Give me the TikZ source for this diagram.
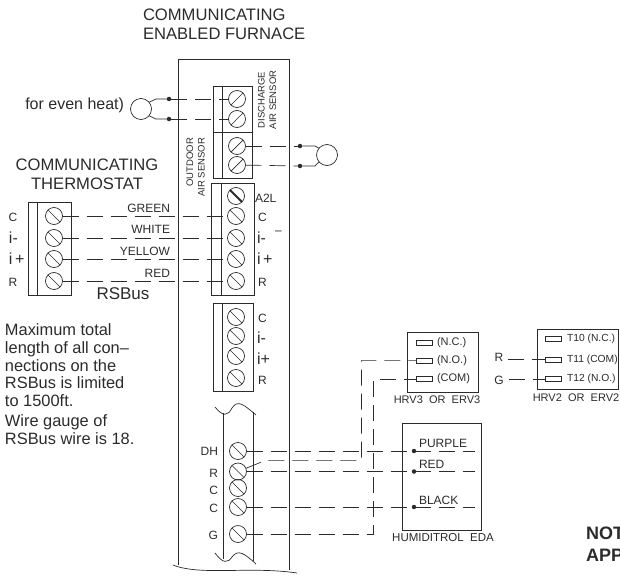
\documentclass[tikz,border=0pt]{standalone}
\usepackage{fontspec}
\setmainfont{Liberation Sans}
\usetikzlibrary{positioning}
\definecolor{inkgray}{HTML}{2B2B2B}

\begin{document}
\begin{tikzpicture}[
            x=1pt, y=-1pt,
            color=inkgray,
            line width=0.7pt,
            every node/.style={inner sep=0pt, outer sep=0pt},
            screw/.style={circle, draw, minimum size=17pt,
              path picture={\draw (path picture bounding box.north west) -- (path picture bounding box.south east);}},
            screwflip/.style={circle, draw, minimum size=17pt,
              path picture={\draw (path picture bounding box.south west) -- (path picture bounding box.north east);}},
            screwbold/.style={circle, draw, minimum size=17pt,
              path picture={\draw[line width=1.8pt] (path picture bounding box.north west) -- (path picture bounding box.south east);}},
            block/.style={rectangle, draw},
            wire/.style={dash pattern=on 16pt off 8pt},
            splice/.style={circle, fill=inkgray, minimum size=4.5pt},
            sensor/.style={circle, draw, minimum size=21pt},
            terminal/.style={rectangle, draw, minimum width=16pt, minimum height=4.5pt},
            headtext/.style={font=\fontsize{16.6}{19}\selectfont},
            bodytext/.style={font=\fontsize{16.4}{17.7}\selectfont, align=left},
            pintext/.style={font=\fontsize{12}{14}\selectfont},
            bigpin/.style={font=\fontsize{16}{18}\selectfont},
            tagtext/.style={font=\fontsize{11}{13}\selectfont},
            sidetext/.style={font=\fontsize{9.5}{11.5}\selectfont, rotate=90}
            ]
            \useasboundingbox (0,0) rectangle (620,575);

            % Furnace outline
            \draw (178,565) -- (178,59) -- (289,59) -- (289,570);
            \draw (173,565) .. controls (200,576) and (250,566) .. (297,573);
            \node[headtext, anchor=west] (furnacea) at (143,15) {COMMUNICATING};
            \node[headtext, anchor=west] (furnaceb) at (143,34) {ENABLED FURNACE};

            % Sensor blocks
            \node[block, minimum width=39pt, minimum height=46pt] (dischargeblock) at (232.5,109) {};
            \node[block, minimum width=39pt, minimum height=46pt] (outdoorblock) at (232.5,155.5) {};
            \draw (222,86) -- (222,178.5);
            \node[screwflip] (da) at (237,99) {};
            \node[screwflip] (db) at (237,119) {};
            \node[screwflip] (oa) at (237,146) {};
            \node[screwflip] (ob) at (237,165) {};
            \node[sidetext, align=center] (dischargetext) at (267,100) {DISCHARGE\\AIR SENSOR};
            \node[sidetext, align=right, anchor=east] (outdoortext) at (195.5,138) {OUTDOOR\\AIR SENSOR};

            % Left sensor
            \node[font=\fontsize{16}{18}\selectfont, anchor=east] (evenheat) at (124,105) {for even heat)};
            \node[sensor] (sensl) at (141,109) {};
            \node[splice] (sla) at (169,99) {};
            \node[splice] (slb) at (169,119) {};
            \draw (sensl.40) -- (156,99) -- (sla);
            \draw (sensl.-40) -- (156,119) -- (slb);
            \draw[wire] (sla) -- (da);
            \draw[wire] (slb) -- (db);

            % Right sensor
            \node[sensor] (sensr) at (327,155) {};
            \node[splice] (sra) at (300,146) {};
            \node[splice] (srb) at (300,166) {};
            \draw (sensr.140) -- (315,146) -- (sra);
            \draw (sensr.-140) -- (315,166) -- (srb);
            \draw[wire] (oa) -- (sra);
            \draw[wire] (ob) -- (srb);

            % Thermostat
            \node[headtext] (thermoa) at (87,165) {COMMUNICATING};
            \node[headtext] (thermob) at (87,183.5) {THERMOSTAT};
            \node[block, minimum width=43pt, minimum height=93pt] (thermoblock) at (49.5,248.5) {};
            \draw (37,202) -- (37,295);
            \node[screw] (ta) at (54,216) {};
            \node[screw] (tb) at (54,238) {};
            \node[screw] (tc) at (54,259) {};
            \node[screw] (td) at (54,281) {};
            \node[pintext] (tlabela) at (13,217) {C};
            \node[bigpin, anchor=west] (tlabelb) at (9,238) {i-};
            \node[bigpin, anchor=west] (tlabelc) at (9,259) {i\,+};
            \node[pintext] (tlabeld) at (13,282) {R};

            % Main block
            \node[block, minimum width=43pt, minimum height=112pt] (mainblock) at (232.5,239) {};
            \draw (221,183) -- (221,295);
            \node[screwbold] (ma) at (236,196) {};
            \node[screw] (mb) at (236,216) {};
            \node[screw] (mc) at (236,238) {};
            \node[screw] (md) at (236,259) {};
            \node[screw] (me) at (236,281) {};
            \node[pintext, anchor=west] (mlabela) at (255,198) {A2L};
            \node[pintext, anchor=west] (mlabelb) at (258,217) {C};
            \node[bigpin, anchor=west] (mlabelc) at (257,238) {i-};
            \node[pintext, anchor=west] (dashmark) at (275,233) {–};
            \node[bigpin, anchor=west] (mlabeld) at (257,259) {i\,+};
            \node[pintext, anchor=west] (mlabele) at (258,282) {R};

            % RSBus wires
            \draw[wire] (ta) -- (mb);
            \draw[wire] (tb) -- (mc);
            \draw[wire] (tc) -- (md);
            \draw[wire] (td) -- (me);
            \node[pintext, anchor=east] (greentext) at (170,208) {GREEN};
            \node[pintext, anchor=east] (whitetext) at (170,229) {WHITE};
            \node[pintext, anchor=east] (yellowtext) at (170,251) {YELLOW};
            \node[pintext, anchor=east] (redtext) at (170,273) {RED};
            \node[font=\fontsize{17}{19}\selectfont] (rsbus) at (123,294) {RSBus};

            % Notes
            \node[bodytext, anchor=north west] (notea) at (5,324) {Maximum total\\length of all con–\\nections on the\\RSBus is limited\\to 1500ft.};
            \node[bodytext, anchor=north west] (noteb) at (5,415) {Wire gauge of\\RSBus wire is 18.};

            % Second block
            \node[block, minimum width=40pt, minimum height=88pt] (secondblock) at (233,347) {};
            \draw (222,303) -- (222,391);
            \node[screw] (sa) at (236,317) {};
            \node[screw] (sb) at (236,336) {};
            \node[screw] (sc) at (236,356) {};
            \node[screw] (sd) at (236,378) {};
            \node[pintext, anchor=west] (slabela) at (258,318) {C};
            \node[bigpin, anchor=west] (slabelb) at (257,338) {i-};
            \node[bigpin, anchor=west] (slabelc) at (257,359) {i+};
            \node[pintext, anchor=west] (slabeld) at (258,380) {R};

            % Lower strip
            \draw (223,413) -- (223,559);
            \draw (253,412) -- (253,561);
            \draw (215,407) .. controls (223,417) and (228,416) .. (232,408) .. controls (238,399) and (244,405) .. (256,415);
            \draw (215,553) .. controls (223,564) and (228,563) .. (232,557) .. controls (238,549) and (244,553) .. (256,564);
            \node[screw] (la) at (238,451) {};
            \node[screw] (lb) at (238,471.5) {};
            \node[screw] (lc) at (238,488) {};
            \node[screw] (ld) at (238,507) {};
            \node[screw] (le) at (238,534) {};
            \node[pintext, anchor=east] (llabela) at (218,451) {DH};
            \node[pintext, anchor=east] (llabelb) at (218,473) {R};
            \node[pintext, anchor=east] (llabelc) at (218,490) {C};
            \node[pintext, anchor=east] (llabeld) at (218,508) {C};
            \node[pintext, anchor=east] (llabele) at (218,535) {G};

            % HRV3 box
            \node[block, minimum width=71pt, minimum height=60pt] (hrvthree) at (442.5,362) {};
            \node[terminal] (nca) at (424,343) {};
            \node[terminal] (noa) at (424,360.6) {};
            \node[terminal] (coma) at (424,379) {};
            \node[tagtext, right=5pt of nca] (ncatext) {(N.C.)};
            \node[tagtext, right=5pt of noa] (noatext) {(N.O.)};
            \node[tagtext, right=5pt of coma] (comatext) {(COM)};
            \node[tagtext] (hrvthreetext) at (437,400) {HRV3\ \ OR\ \ ERV3};

            % HRV2 box
            \node[block, minimum width=81pt, minimum height=60pt] (hrvtwo) at (577.5,359) {};
            \node[terminal] (ncb) at (553,339) {};
            \node[terminal] (comb) at (553,359.6) {};
            \node[terminal] (nob) at (553,379) {};
            \node[font=\fontsize{10.3}{12}\selectfont, right=6pt of ncb] (ncbtext) {T10 (N.C.)};
            \node[font=\fontsize{10.3}{12}\selectfont, right=6pt of comb] (combtext) {T11 (COM)};
            \node[font=\fontsize{10.3}{12}\selectfont, right=6pt of nob] (nobtext) {T12 (N.O.)};
            \node[tagtext] (hrvtwotext) at (576,398) {HRV2\ \ OR\ \ ERV2};
            \node[pintext] (rpin) at (499,357) {R};
            \node[pintext] (gpin) at (499,380) {G};
            \draw[wire] (rpin.east) ++(5,2.6) -- (comb);
            \draw[wire] (gpin.east) ++(5,-1) -- (nob);

            % Humiditrol box
            \node[block, minimum width=79pt, minimum height=107pt] (humiditrol) at (441.5,476.5) {};
            \node[splice] (dpurple) at (414,451) {};
            \node[splice] (dred) at (414,471.5) {};
            \node[splice] (dblack) at (414,507) {};
            \coordinate (epurple) at (475,451);
            \coordinate (ered) at (475,471.5);
            \coordinate (eblack) at (475,507);
            \node[pintext, anchor=west] (purpletext) at (419,443) {PURPLE};
            \node[pintext, anchor=west] (redtextb) at (419,464) {RED};
            \node[pintext, anchor=west] (blacktext) at (419,500) {BLACK};
            \node[font=\fontsize{11.5}{13}\selectfont] (humiditext) at (443,538) {HUMIDITROL\ \ EDA};

            % Lower wires
            \draw[wire] (la) -- (epurple);
            \draw[wire] (lb) -- (ered);
            \draw[wire] (ld) -- (eblack);
            \draw[wire] (lb) -- (265,460.6) -- (361.5,460.6) -- (361.5,360.6) -- (noa);
            \draw[wire] (le) -- (373,534) -- (373,379) -- (coma);

            % Cut off note
            \node[font=\bfseries\fontsize{18}{20}\selectfont, anchor=west] (cuta) at (586,533) {NOT};
            \node[font=\bfseries\fontsize{18}{20}\selectfont, anchor=west] (cutb) at (586,555) {APP};
          \end{tikzpicture}
\end{document}
